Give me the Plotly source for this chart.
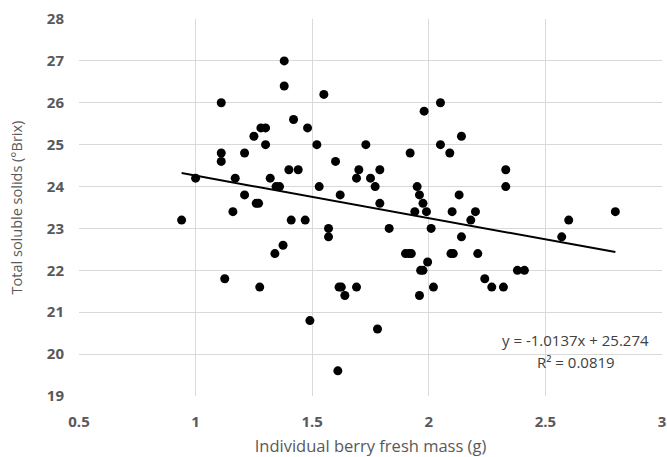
import plotly.graph_objects as go

berry_mass = [0.94, 1.0, 1.11, 1.11, 1.11, 1.125, 1.16, 1.17, 1.21, 1.21,
              1.25, 1.26, 1.27, 1.275, 1.28, 1.30, 1.30, 1.32, 1.34, 1.345,
              1.36, 1.375, 1.38, 1.38, 1.40, 1.41, 1.42, 1.44, 1.47, 1.48,
              1.49, 1.52, 1.53, 1.55, 1.57, 1.57, 1.60, 1.61, 1.615, 1.62,
              1.625, 1.64, 1.69, 1.69, 1.70, 1.73, 1.75, 1.77, 1.78, 1.79,
              1.79, 1.83, 1.90, 1.915, 1.92, 1.925, 1.94, 1.95, 1.96, 1.96,
              1.965, 1.975, 1.975, 1.98, 1.99, 1.995, 2.01, 2.02, 2.05, 2.05,
              2.09, 2.095, 2.10, 2.105, 2.13, 2.14, 2.14, 2.18, 2.20, 2.21,
              2.24, 2.27, 2.32, 2.33, 2.33, 2.38, 2.41, 2.57, 2.60, 2.80]
soluble_solids = [23.2, 24.2, 26.0, 24.8, 24.6, 21.8, 23.4, 24.2, 24.8, 23.8,
                  25.2, 23.6, 23.6, 21.6, 25.4, 25.4, 25.0, 24.2, 22.4, 24.0,
                  24.0, 22.6, 27.0, 26.4, 24.4, 23.2, 25.6, 24.4, 23.2, 25.4,
                  20.8, 25.0, 24.0, 26.2, 23.0, 22.8, 24.6, 19.6, 21.6, 23.8,
                  21.6, 21.4, 21.6, 24.2, 24.4, 25.0, 24.2, 24.0, 20.6, 24.4,
                  23.6, 23.0, 22.4, 22.4, 24.8, 22.4, 23.4, 24.0, 23.8, 21.4,
                  22.0, 22.0, 23.6, 25.8, 23.4, 22.2, 23.0, 21.6, 26.0, 25.0,
                  24.8, 22.4, 23.4, 22.4, 23.8, 22.8, 25.2, 23.2, 23.4, 22.4,
                  21.8, 21.6, 21.6, 24.4, 24.0, 22.0, 22.0, 22.8, 23.2, 23.4]

slope = -1.0137
intercept = 25.274
r_squared = 0.0819

x_ticks = [0.5, 1, 1.5, 2, 2.5, 3]
y_ticks = [19, 20, 21, 22, 23, 24, 25, 26, 27, 28]

trend_x = [min(berry_mass), max(berry_mass)]
trend_y = [slope * v + intercept for v in trend_x]

fig = go.Figure()
fig.add_trace(go.Scatter(
    x=berry_mass, y=soluble_solids, mode="markers",
    marker=dict(color="black", size=9), showlegend=False, hoverinfo="skip"))
fig.add_trace(go.Scatter(
    x=trend_x, y=trend_y, mode="lines",
    line=dict(color="black", width=2), showlegend=False, hoverinfo="skip"))

annot_font = dict(family="Open Sans", size=15, color="#404040")
fig.add_annotation(x=2.63, y=20.34, xref="x", yref="y",
                   text=f"y = {slope}x + {intercept}",
                   showarrow=False, font=annot_font)
fig.add_annotation(x=2.63, y=19.81, xref="x", yref="y",
                   text=f"R² = {r_squared}",
                   showarrow=False, font=annot_font)

tickfont = dict(family="Open Sans", size=15, color="#595959", weight="bold")
fig.update_layout(
    width=667, height=457,
    margin=dict(l=79, r=5, t=19, b=61),
    plot_bgcolor="white", paper_bgcolor="white",
    xaxis=dict(range=[0.5, 3], tickvals=x_ticks, ticktext=[str(v) for v in x_ticks],
               showgrid=True, gridcolor="#d9d9d9", gridwidth=1, zeroline=False,
               showline=False, tickfont=tickfont, ticklabelstandoff=15,
               automargin=False,
               title=dict(text="Individual berry fresh mass (g)", standoff=14,
                          font=dict(family="Open Sans", size=16.5, color="#595959"))),
    yaxis=dict(range=[19, 28], tickvals=y_ticks, showgrid=True, gridcolor="#d9d9d9",
               gridwidth=1, zeroline=False, showline=False, tickfont=tickfont,
               ticklabelstandoff=14, automargin=False,
               title=dict(text="Total soluble solids (°Brix)", standoff=20,
                          font=dict(family="Open Sans", size=14.5, color="#595959"))),
)

fig.write_html("out.html")
